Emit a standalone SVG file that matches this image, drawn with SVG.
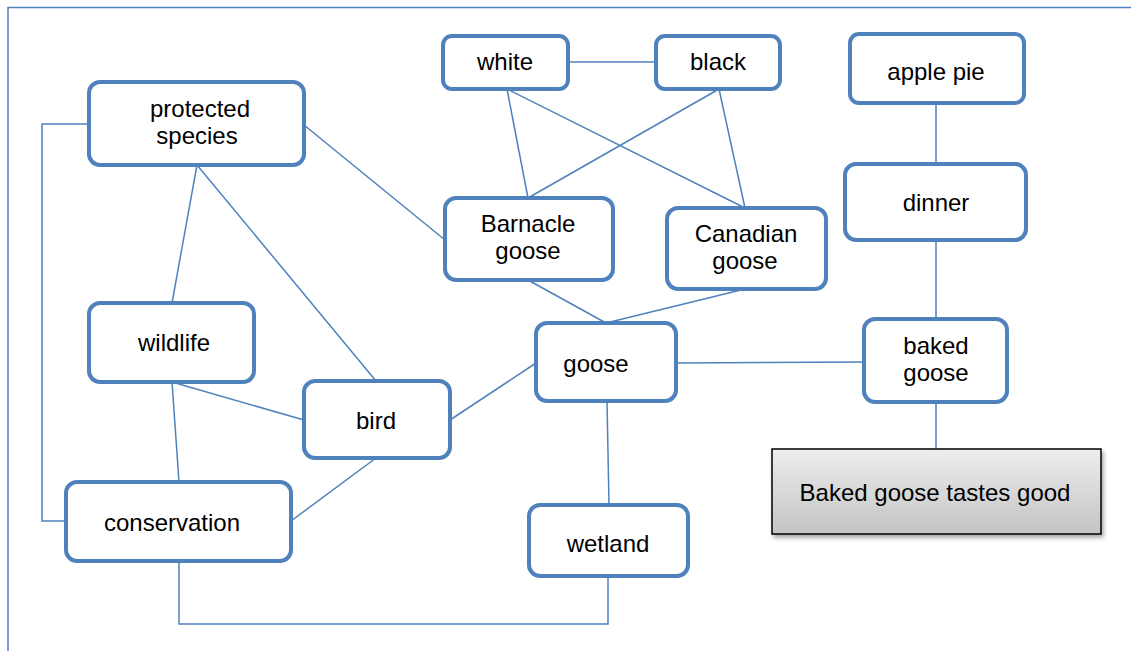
<svg xmlns="http://www.w3.org/2000/svg" width="1131" height="651" viewBox="0 0 1131 651">
<defs>
<style>
.n{fill:#fff;stroke:#4f81bd;stroke-width:4}
.c{fill:none;stroke:#4f81bd;stroke-width:1.5}
text{font-family:"Liberation Sans",Arial,sans-serif;font-size:24px;fill:#000;text-anchor:middle}
</style>
<linearGradient id="g" x1="0" y1="0" x2="0" y2="1">
<stop offset="0" stop-color="#ededed"/>
<stop offset="1" stop-color="#c4c4c4"/>
</linearGradient>
<filter id="sh" x="-10%" y="-10%" width="130%" height="140%">
<feDropShadow dx="2" dy="3" stdDeviation="2" flood-color="#000" flood-opacity="0.35"/>
</filter>
</defs>
<rect width="1131" height="651" fill="#fff"/>
<path d="M8 651 V7.5 H1131" fill="none" stroke="#4f81bd" stroke-width="1.5"/>
<g id="connectors">
<line class="c" x1="568" y1="62" x2="656" y2="62"/>
<line class="c" x1="507" y1="89" x2="528" y2="198"/>
<line class="c" x1="507" y1="89" x2="745" y2="208"/>
<line class="c" x1="719" y1="89" x2="528" y2="198"/>
<line class="c" x1="719" y1="89" x2="745" y2="208"/>
<line class="c" x1="304" y1="125" x2="445" y2="240"/>
<line class="c" x1="197" y1="165" x2="172" y2="303"/>
<line class="c" x1="197" y1="165" x2="376" y2="381"/>
<polyline class="c" points="89,124 42,124 42,521 66,521"/>
<line class="c" x1="172" y1="382" x2="304" y2="420"/>
<line class="c" x1="172" y1="382" x2="179" y2="482"/>
<line class="c" x1="376" y1="458" x2="291" y2="521"/>
<line class="c" x1="450" y1="420" x2="536" y2="363"/>
<line class="c" x1="528" y1="280" x2="606" y2="323"/>
<line class="c" x1="745" y1="289" x2="606" y2="323"/>
<line class="c" x1="676" y1="363" x2="864" y2="362"/>
<line class="c" x1="607" y1="401" x2="609" y2="505"/>
<polyline class="c" points="608,576 608,624 179,624 179,561"/>
<line class="c" x1="936" y1="103" x2="936" y2="164"/>
<line class="c" x1="936" y1="240" x2="936" y2="319"/>
<line class="c" x1="936" y1="402" x2="936" y2="449"/>
</g>
<g id="protected-species"><rect class="n" x="89" y="82" width="215" height="83" rx="11"/><text x="200" y="117">protected</text><text x="197" y="144">species</text></g>
<g id="white"><rect class="n" x="443" y="36" width="125" height="53" rx="9"/><text x="505" y="70">white</text></g>
<g id="black"><rect class="n" x="656" y="36" width="124" height="53" rx="9"/><text x="718" y="70">black</text></g>
<g id="apple-pie"><rect class="n" x="850" y="34" width="174" height="69" rx="9"/><text x="936" y="80">apple pie</text></g>
<g id="barnacle-goose"><rect class="n" x="445" y="198" width="168" height="82" rx="11"/><text x="528" y="232">Barnacle</text><text x="528" y="259">goose</text></g>
<g id="canadian-goose"><rect class="n" x="667" y="208" width="159" height="81" rx="11"/><text x="746" y="242">Canadian</text><text x="745" y="269">goose</text></g>
<g id="dinner"><rect class="n" x="845" y="164" width="181" height="76" rx="11"/><text x="936" y="211">dinner</text></g>
<g id="wildlife"><rect class="n" x="89" y="303" width="165" height="79" rx="11"/><text x="174" y="351">wildlife</text></g>
<g id="bird"><rect class="n" x="304" y="381" width="146" height="77" rx="11"/><text x="376" y="429">bird</text></g>
<g id="goose"><rect class="n" x="536" y="323" width="140" height="78" rx="11"/><text x="596" y="372">goose</text></g>
<g id="baked-goose"><rect class="n" x="864" y="319" width="143" height="83" rx="11"/><text x="936" y="354">baked</text><text x="936" y="381">goose</text></g>
<g id="conservation"><rect class="n" x="66" y="482" width="225" height="79" rx="11"/><text x="172" y="531">conservation</text></g>
<g id="wetland"><rect class="n" x="529" y="505" width="159" height="71" rx="11"/><text x="608" y="552">wetland</text></g>
<g id="baked-goose-tastes-good"><rect x="772" y="449" width="329" height="85" fill="url(#g)" stroke="#000" stroke-width="1.5" filter="url(#sh)"/><text x="935" y="501">Baked goose tastes good</text></g>
</svg>
